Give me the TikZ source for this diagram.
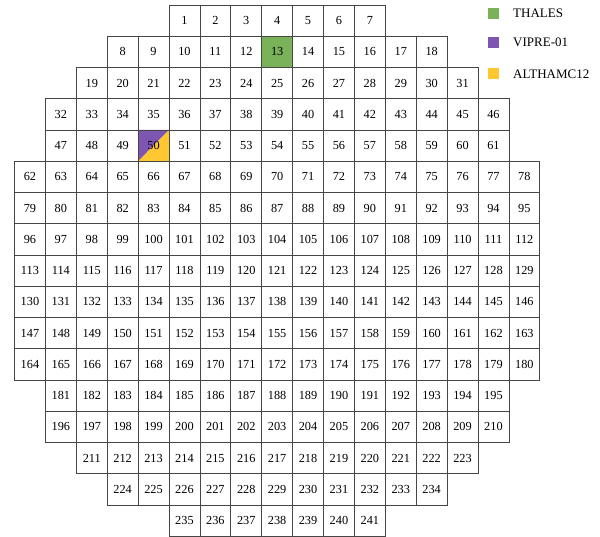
\documentclass[tikz,border=0pt]{standalone}
\usepackage{fontspec}
\setmainfont{Liberation Serif}
\definecolor{thales}{RGB}{122,178,90}
\definecolor{vipre}{RGB}{126,86,178}
\definecolor{altha}{RGB}{255,200,50}
\definecolor{gridgray}{RGB}{70,70,70}
\begin{document}
\begin{tikzpicture}[x=1pt,y=-1pt,
  cell/.style={draw=gridgray, line width=0.8pt, minimum width=30.9pt, minimum height=31.25pt, inner sep=0pt, font=\fontsize{12.3}{12.3}\selectfont},
  legsq/.style={minimum width=11pt, minimum height=11pt, inner sep=0pt},
  legtxt/.style={anchor=west, inner sep=0pt, font=\fontsize{13}{13}\selectfont}]
\useasboundingbox (0,0) rectangle (600,537);
% coloured cells
\fill[thales] (261.7,36.25) rectangle (292.6,67.5);
\fill[vipre] (138.1,130) -- (169,130) -- (138.1,161.25) -- cycle;
\fill[altha] (169,130) -- (169,161.25) -- (138.1,161.25) -- cycle;
% grid
\foreach \r/\c/\s/\n in {0/5/1/7, 1/3/8/11, 2/2/19/13, 3/1/32/15, 4/1/47/15,
  5/0/62/17, 6/0/79/17, 7/0/96/17, 8/0/113/17, 9/0/130/17, 10/0/147/17, 11/0/164/17,
  12/1/181/15, 13/1/196/15, 14/2/211/13, 15/3/224/11, 16/5/235/7} {
  \foreach \k in {1,...,\n} {
    \pgfmathtruncatemacro\num{\s+\k-1}
    \pgfmathsetmacro\xx{14.5+(\c+\k-1)*30.9+15.45}
    \pgfmathsetmacro\yy{5+\r*31.25+15.625}
    \node[cell] (c\num) at (\xx,\yy) {\num};
  }
}
% legend
\node[legsq, fill=thales] (lg1) at (493.5,13.5) {};
\node[legsq, fill=vipre] (lg2) at (493.5,42.2) {};
\node[legsq, fill=altha] (lg3) at (493.5,74) {};
\node[legtxt] (lt1) at (513,13.5) {THALES};
\node[legtxt] (lt2) at (513,42.2) {VIPRE-01};
\node[legtxt] (lt3) at (513,74) {ALTHAMC12};
\end{tikzpicture}
\end{document}
